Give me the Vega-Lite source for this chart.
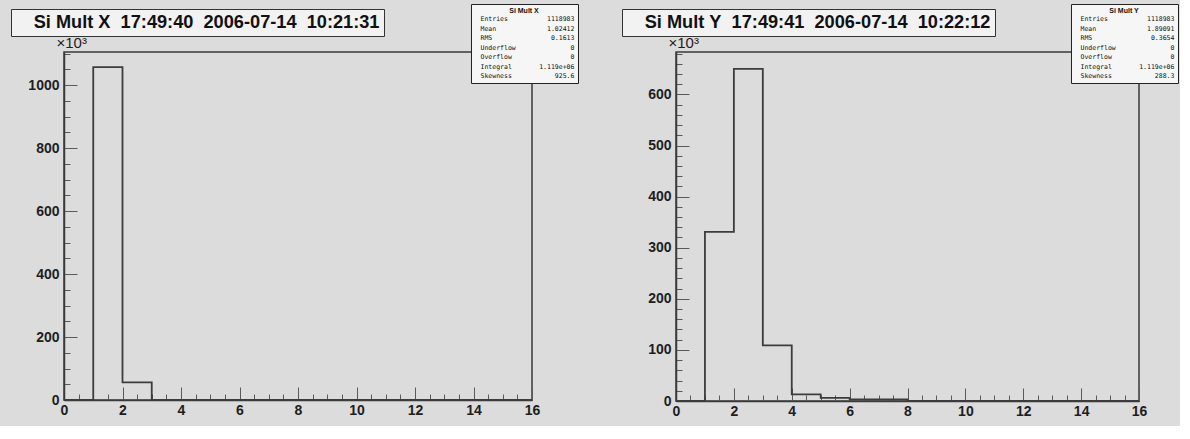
{
  "$schema": "https://vega.github.io/schema/vega-lite/v6.json",
  "background": "#dcdcdc",
  "padding": {"left": 9, "top": 2, "right": 0, "bottom": 0},
  "autosize": {"type": "pad"},
  "datasets": {
    "histX": [
      {"lo": 0, "n": 0}, {"lo": 1, "n": 1057}, {"lo": 2, "n": 56}, {"lo": 3, "n": 0},
      {"lo": 4, "n": 0}, {"lo": 5, "n": 0}, {"lo": 6, "n": 0}, {"lo": 7, "n": 0},
      {"lo": 8, "n": 0}, {"lo": 9, "n": 0}, {"lo": 10, "n": 0}, {"lo": 11, "n": 0},
      {"lo": 12, "n": 0}, {"lo": 13, "n": 0}, {"lo": 14, "n": 0}, {"lo": 15, "n": 0},
      {"lo": 16, "n": 0}
    ],
    "histY": [
      {"lo": 0, "n": 0}, {"lo": 1, "n": 331}, {"lo": 2, "n": 650}, {"lo": 3, "n": 109},
      {"lo": 4, "n": 13}, {"lo": 5, "n": 6}, {"lo": 6, "n": 3}, {"lo": 7, "n": 3},
      {"lo": 8, "n": 0}, {"lo": 9, "n": 0}, {"lo": 10, "n": 0}, {"lo": 11, "n": 0},
      {"lo": 12, "n": 0}, {"lo": 13, "n": 0}, {"lo": 14, "n": 0}, {"lo": 15, "n": 0},
      {"lo": 16, "n": 0}
    ],
    "statsX": [
      {"stat": "Entries", "value": "1118983"},
      {"stat": "Mean", "value": "1.02412"},
      {"stat": "RMS", "value": "0.1613"},
      {"stat": "Underflow", "value": "0"},
      {"stat": "Overflow", "value": "0"},
      {"stat": "Integral", "value": "1.119e+06"},
      {"stat": "Skewness", "value": "925.6"}
    ],
    "statsY": [
      {"stat": "Entries", "value": "1118983"},
      {"stat": "Mean", "value": "1.89091"},
      {"stat": "RMS", "value": "0.3654"},
      {"stat": "Underflow", "value": "0"},
      {"stat": "Overflow", "value": "0"},
      {"stat": "Integral", "value": "1.119e+06"},
      {"stat": "Skewness", "value": "288.3"}
    ],
    "titleX": [{"ttl": "Si Mult X  17:49:40  2006-07-14  10:21:31"}],
    "titleY": [{"ttl": "Si Mult Y  17:49:41  2006-07-14  10:22:12"}]
  },
  "spacing": 144,
  "bounds": "flush",
  "hconcat": [
    {
      "width": 468,
      "height": 348,
      "layer": [
        {
          "data": {"name": "histX"},
          "mark": {"type": "line", "interpolate": "step-after", "color": "#3c3c3c", "strokeWidth": 1.8},
          "encoding": {
            "x": {
              "field": "lo", "type": "quantitative",
              "scale": {"domain": [0, 16], "nice": false, "zero": false},
              "axis": {
                "title": null,
                "values": [0,0.5,1,1.5,2,2.5,3,3.5,4,4.5,5,5.5,6,6.5,7,7.5,8,8.5,9,9.5,10,10.5,11,11.5,12,12.5,13,13.5,14,14.5,15,15.5,16],
                "labelExpr": "datum.value % 2 === 0 ? format(datum.value, 'd') : ''",
                "tickSize": {"condition": {"test": "datum.value % 2 === 0", "value": -13}, "value": -6},
                "labelPadding": 16
              }
            },
            "y": {
              "field": "n", "type": "quantitative",
              "scale": {"domain": [0, 1105], "nice": false},
              "axis": {
                "title": "×10³",
                "titleAngle": 0, "titleX": -8, "titleY": -2, "titleAlign": "left", "titleBaseline": "bottom",
                "titleFontWeight": "normal", "titleFontSize": 15, "titleColor": "#1e1e1e",
                "values": [0,50,100,150,200,250,300,350,400,450,500,550,600,650,700,750,800,850,900,950,1000,1050,1100],
                "labelExpr": "datum.value % 200 === 0 ? format(datum.value, 'd') : ''",
                "tickSize": {"condition": {"test": "datum.value % 200 === 0", "value": -13}, "value": -6},
                "labelPadding": 18
              }
            }
          }
        },
        {
          "data": {"name": "statsX"},
          "transform": [{"calculate": "pad(datum.stat, 14, '\u00a0') + pad(datum.value, 10, '\u00a0', 'left')", "as": "line"}],
          "mark": {"type": "point", "opacity": 0},
          "encoding": {
            "color": {
              "field": "line", "type": "nominal", "sort": null,
              "scale": {"range": ["#000000"]},
              "legend": {
                "orient": "none", "legendX": 407, "legendY": -48,
                "title": "Si Mult X", "titleFont": "Liberation Sans", "titleFontSize": 7, "titleFontWeight": "bold",
                "titleAnchor": "middle", "titlePadding": 2, "titleColor": "#111",
                "labelFont": "DejaVu Sans Mono", "labelFontSize": 6.5, "labelColor": "#111", "labelOffset": 0, "labelLimit": 0,
                "symbolOpacity": 0, "symbolSize": 0, "symbolStrokeWidth": 0,
                "rowPadding": 2.5, "padding": 3,
                "fillColor": "#f6f6f6", "strokeColor": "#222"
              }
            }
          }
        },
        {
          "data": {"name": "titleX"},
          "mark": {"type": "point", "opacity": 0},
          "encoding": {
            "shape": {
              "field": "ttl", "type": "nominal",
              "legend": {
                "orient": "none", "legendX": -53, "legendY": -43,
                "title": null,
                "labelExpr": "'\u00a0\u00a0\u00a0\u00a0\u00a0\u00a0' + replace(datum.label, regexp(' ', 'g'), '\u00a0') + '\u00a0\u00a0\u00a0\u00a0\u00a0\u00a0\u00a0'",
                "labelFont": "Liberation Sans", "labelFontSize": 18.2, "labelFontWeight": "bold", "labelColor": "#111",
                "labelOffset": 0, "labelLimit": 0,
                "symbolOpacity": 0, "symbolSize": 0, "symbolStrokeWidth": 0,
                "padding": 4.5,
                "fillColor": "#f2f2f2", "strokeColor": "#333"
              }
            }
          }
        }
      ]
    },
    {
      "width": 463,
      "height": 349,
      "layer": [
        {
          "data": {"name": "histY"},
          "mark": {"type": "line", "interpolate": "step-after", "color": "#3c3c3c", "strokeWidth": 1.8},
          "encoding": {
            "x": {
              "field": "lo", "type": "quantitative",
              "scale": {"domain": [0, 16], "nice": false, "zero": false},
              "axis": {
                "title": null,
                "values": [0,0.5,1,1.5,2,2.5,3,3.5,4,4.5,5,5.5,6,6.5,7,7.5,8,8.5,9,9.5,10,10.5,11,11.5,12,12.5,13,13.5,14,14.5,15,15.5,16],
                "labelExpr": "datum.value % 2 === 0 ? format(datum.value, 'd') : ''",
                "tickSize": {"condition": {"test": "datum.value % 2 === 0", "value": -13}, "value": -6},
                "labelPadding": 16
              }
            },
            "y": {
              "field": "n", "type": "quantitative",
              "scale": {"domain": [0, 683], "nice": false},
              "axis": {
                "title": "×10³",
                "titleAngle": 0, "titleX": -8, "titleY": -2, "titleAlign": "left", "titleBaseline": "bottom",
                "titleFontWeight": "normal", "titleFontSize": 15, "titleColor": "#1e1e1e",
                "values": [0,20,40,60,80,100,120,140,160,180,200,220,240,260,280,300,320,340,360,380,400,420,440,460,480,500,520,540,560,580,600,620,640,660,680],
                "labelExpr": "datum.value % 100 === 0 ? format(datum.value, 'd') : ''",
                "tickSize": {"condition": {"test": "datum.value % 100 === 0", "value": -13}, "value": -6},
                "labelPadding": 18
              }
            }
          }
        },
        {
          "data": {"name": "statsY"},
          "transform": [{"calculate": "pad(datum.stat, 14, '\u00a0') + pad(datum.value, 10, '\u00a0', 'left')", "as": "line"}],
          "mark": {"type": "point", "opacity": 0},
          "encoding": {
            "color": {
              "field": "line", "type": "nominal", "sort": null,
              "scale": {"range": ["#000000"]},
              "legend": {
                "orient": "none", "legendX": 395, "legendY": -48,
                "title": "Si Mult Y", "titleFont": "Liberation Sans", "titleFontSize": 7, "titleFontWeight": "bold",
                "titleAnchor": "middle", "titlePadding": 2, "titleColor": "#111",
                "labelFont": "DejaVu Sans Mono", "labelFontSize": 6.5, "labelColor": "#111", "labelOffset": 0, "labelLimit": 0,
                "symbolOpacity": 0, "symbolSize": 0, "symbolStrokeWidth": 0,
                "rowPadding": 2.5, "padding": 3,
                "fillColor": "#f6f6f6", "strokeColor": "#222"
              }
            }
          }
        },
        {
          "data": {"name": "titleY"},
          "mark": {"type": "point", "opacity": 0},
          "encoding": {
            "shape": {
              "field": "ttl", "type": "nominal",
              "legend": {
                "orient": "none", "legendX": -54, "legendY": -43,
                "title": null,
                "labelExpr": "'\u00a0\u00a0\u00a0\u00a0\u00a0\u00a0' + replace(datum.label, regexp(' ', 'g'), '\u00a0') + '\u00a0\u00a0\u00a0\u00a0\u00a0\u00a0\u00a0'",
                "labelFont": "Liberation Sans", "labelFontSize": 18.2, "labelFontWeight": "bold", "labelColor": "#111",
                "labelOffset": 0, "labelLimit": 0,
                "symbolOpacity": 0, "symbolSize": 0, "symbolStrokeWidth": 0,
                "padding": 4.5,
                "fillColor": "#f2f2f2", "strokeColor": "#333"
              }
            }
          }
        }
      ]
    }
  ],
  "resolve": {
    "scale": {"color": "independent", "shape": "independent", "x": "independent", "y": "independent"},
    "legend": {"color": "independent", "shape": "independent"}
  },
  "config": {
    "view": {"stroke": "#3a3a3a", "strokeWidth": 1.5, "fill": "#dcdcdc"},
    "axis": {
      "domainColor": "#3a3a3a", "domainWidth": 1.5,
      "tickColor": "#5a5a5a", "tickWidth": 1,
      "labelFont": "Liberation Sans", "labelFontWeight": "bold", "labelFontSize": 14, "labelColor": "#1e1e1e",
      "titleFont": "Liberation Sans",
      "grid": false, "labelFlush": false, "labelOverlap": false, "labelBound": false
    }
  }
}
